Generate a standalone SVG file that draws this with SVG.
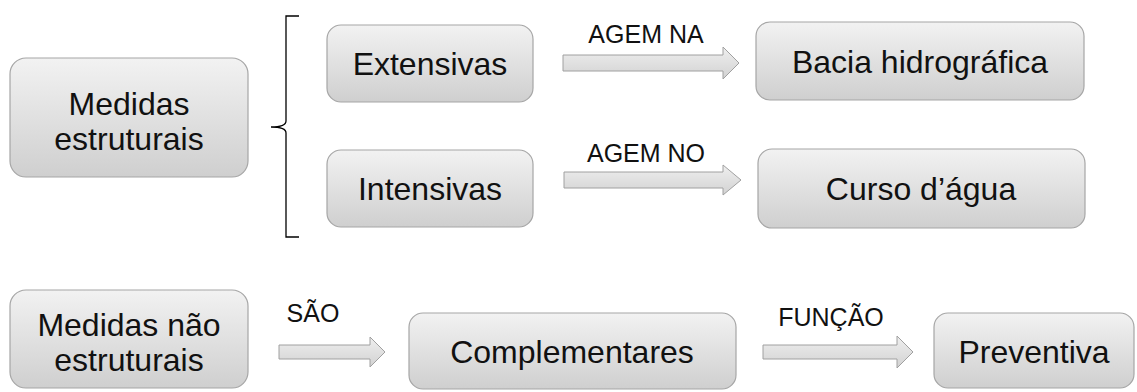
<svg xmlns="http://www.w3.org/2000/svg" width="1137" height="392" viewBox="0 0 1137 392">
<defs>
<linearGradient id="boxg" x1="0" y1="0" x2="0" y2="1">
<stop offset="0" stop-color="#f2f2f2"/>
<stop offset="1" stop-color="#cfcfcf"/>
</linearGradient>
<linearGradient id="arrg" x1="0" y1="0" x2="0" y2="1">
<stop offset="0" stop-color="#efefef"/>
<stop offset="1" stop-color="#d2d2d2"/>
</linearGradient>
</defs>
<style>
.box{fill:url(#boxg);stroke:#a6a6a6;stroke-width:1.2}
.arr{fill:url(#arrg);stroke:#a0a0a0;stroke-width:1}
.t{font-family:"Liberation Sans",Arial,sans-serif;font-size:32px;fill:#111;text-anchor:middle}
.l{font-family:"Liberation Sans",Arial,sans-serif;font-size:25px;fill:#111;text-anchor:middle}
</style>
<rect width="1137" height="392" fill="#fff"/>
<g id="medidas-estruturais">
<rect class="box" x="10" y="58" width="238" height="119" rx="16"/>
<text class="t" x="129" y="115">Medidas</text>
<text class="t" x="129" y="150">estruturais</text>
</g>
<g id="extensivas">
<rect class="box" x="327" y="25" width="206" height="77" rx="14"/>
<text class="t" x="430" y="75">Extensivas</text>
</g>
<g id="intensivas">
<rect class="box" x="327" y="150" width="206" height="77" rx="14"/>
<text class="t" x="430" y="200">Intensivas</text>
</g>
<g id="bacia">
<rect class="box" x="756" y="22" width="328" height="78" rx="14"/>
<text class="t" x="920" y="73">Bacia hidrográfica</text>
</g>
<g id="curso">
<rect class="box" x="758" y="149" width="327" height="79" rx="14"/>
<text class="t" x="921" y="200">Curso d’água</text>
</g>
<g id="medidas-nao-estruturais">
<rect class="box" x="10" y="290" width="238" height="98" rx="16"/>
<text class="t" x="129" y="336">Medidas não</text>
<text class="t" x="129" y="371">estruturais</text>
</g>
<g id="complementares">
<rect class="box" x="409" y="313" width="327" height="76" rx="14"/>
<text class="t" x="572" y="363">Complementares</text>
</g>
<g id="preventiva">
<rect class="box" x="934" y="313" width="200" height="75" rx="14"/>
<text class="t" x="1034" y="363">Preventiva</text>
</g>
<g id="connectors">
<path d="M299,16 H286 V121 Q286,127 271,127 Q286,127 286,133 V237 H299" fill="none" stroke="#000" stroke-width="1.3"/>
<path class="arr" d="M563,55 H723 V47 L739,63 L723,79 V71 H563 Z"/>
<text class="l" x="646" y="43">AGEM NA</text>
<path class="arr" d="M564,172 H723 V165 L741,180 L723,195 V188 H564 Z"/>
<text class="l" x="646" y="162">AGEM NO</text>
<path class="arr" d="M279,345 H370 V337 L385,352 L370,367 V359 H279 Z"/>
<text class="l" x="313" y="322">SÃO</text>
<path class="arr" d="M763,345 H897 V336 L913,352 L897,368 V359 H763 Z"/>
<text class="l" x="831" y="326">FUNÇÃO</text>
</g>
</svg>
